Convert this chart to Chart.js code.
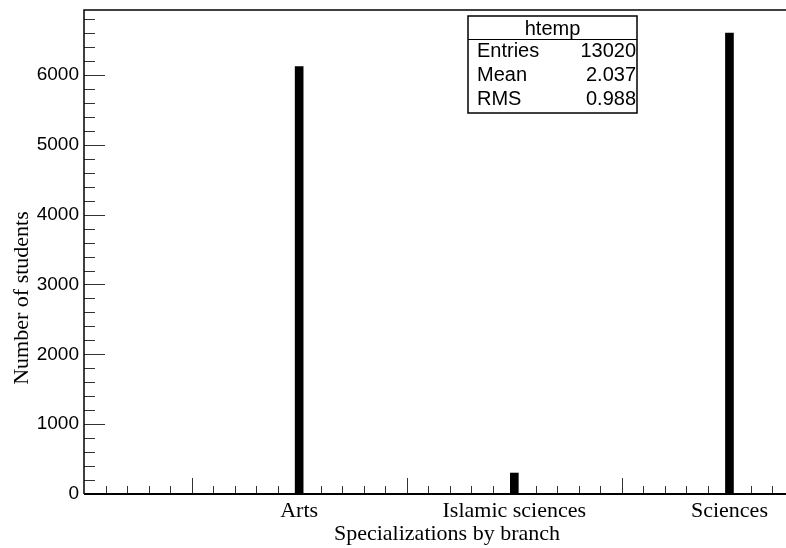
<!DOCTYPE html>
<html>
<head>
<meta charset="utf-8">
<script src="https://cdn.jsdelivr.net/npm/chart.js@4.4.0/dist/chart.umd.min.js"></script>
<style>
  html, body { margin: 0; padding: 0; background: #fff; overflow: hidden; }
  #wrap { width: 800px; height: 548px; }
</style>
</head>
<body>
<div id="wrap"><canvas id="c" width="800" height="548"></canvas></div>
<script>
// ---- data ----
const categories = ['Arts', 'Islamic sciences', 'Sciences'];
const positions = [1, 2, 3];
const counts = [6120, 300, 6600];
const yTickValues = [0, 1000, 2000, 3000, 4000, 5000, 6000];
const statsLabels = ['Entries', 'Mean', 'RMS'];
const statsValues = ['13020', '2.037', '0.988'];
const statsTitle = 'htemp';
const xTitle = 'Specializations by branch';
const yTitle = 'Number of students';

const SANS = "'Liberation Sans', Arial, sans-serif";
const SERIF = "'Liberation Serif', 'Times New Roman', serif";

const points = positions.map((p, i) => ({ x: p, y: counts[i] }));

const rootPlugin = {
  id: 'rootStyle',
  beforeDatasetsDraw(chart) {
    const { ctx, chartArea, scales } = chart;
    const x = scales.x, y = scales.y;
    ctx.save();
    ctx.strokeStyle = '#333';
    ctx.lineWidth = 1;
    for (let v = 0; v <= y.max; v += 200) {
      const py = Math.round(y.getPixelForValue(v)) + 0.5;
      const len = (v % 1000 === 0) ? 21 : 11;
      ctx.beginPath();
      ctx.moveTo(chartArea.left, py);
      ctx.lineTo(chartArea.left + len, py);
      ctx.stroke();
    }
    for (let i = 1; i * 0.1 <= x.max + 1e-9; i++) {
      const v = i * 0.1;
      const px = Math.round(x.getPixelForValue(v)) + 0.5;
      const major = (i % 10 === 5);
      const len = major ? 16 : 8;
      ctx.beginPath();
      ctx.moveTo(px, chartArea.bottom);
      ctx.lineTo(px, chartArea.bottom - len);
      ctx.stroke();
    }
    ctx.strokeStyle = '#000';
    ctx.lineWidth = 1.5;
    ctx.beginPath();
    ctx.moveTo(chart.width, chartArea.top);
    ctx.lineTo(chartArea.left, chartArea.top);
    ctx.lineTo(chartArea.left, chartArea.bottom);
    ctx.stroke();
    ctx.lineWidth = 2;
    ctx.beginPath();
    ctx.moveTo(chartArea.left, chartArea.bottom);
    ctx.lineTo(chart.width, chartArea.bottom);
    ctx.stroke();
    ctx.restore();
  },
  afterDraw(chart) {
    const { ctx } = chart;
    ctx.save();
    const bx = 468, by = 16, bw = 169, bh = 97;
    ctx.fillStyle = '#fff';
    ctx.fillRect(bx, by, bw, bh);
    ctx.strokeStyle = '#000';
    ctx.lineWidth = 1.5;
    ctx.strokeRect(bx, by, bw, bh);
    ctx.lineWidth = 1;
    ctx.beginPath();
    ctx.moveTo(bx, 39.5);
    ctx.lineTo(bx + bw, 39.5);
    ctx.stroke();
    ctx.fillStyle = '#000';
    ctx.font = '20px ' + SANS;
    ctx.textBaseline = 'alphabetic';
    ctx.textAlign = 'center';
    ctx.fillText(statsTitle, bx + bw / 2, 35);
    const baselines = [57, 81, 105];
    statsLabels.forEach((l, i) => {
      ctx.textAlign = 'left';
      ctx.fillText(l, 477, baselines[i]);
      ctx.textAlign = 'right';
      ctx.fillText(statsValues[i], 636, baselines[i]);
    });
    ctx.font = '22px ' + SERIF;
    ctx.textAlign = 'center';
    ctx.textBaseline = 'alphabetic';
    ctx.fillText(xTitle, 447, 540);
    ctx.translate(28, 298);
    ctx.rotate(-Math.PI / 2);
    ctx.fillText(yTitle, 0, 0);
    ctx.restore();
  }
};

new Chart(document.getElementById('c'), {
  type: 'bar',
  data: {
    datasets: [{
      data: points,
      backgroundColor: '#000',
      borderWidth: 0,
      barThickness: 8
    }]
  },
  options: {
    responsive: false,
    animation: false,
    devicePixelRatio: 1,
    layout: { padding: { top: 10, right: 6, left: 0, bottom: 0 } },
    plugins: { legend: { display: false }, tooltip: { enabled: false } },
    scales: {
      x: {
        type: 'linear',
        min: 0,
        max: 3.3,
        offset: false,
        grid: { display: false, drawTicks: false },
        border: { display: false },
        afterBuildTicks(scale) {
          scale.ticks = positions.map(v => ({ value: v }));
        },
        afterFit(scale) {
          scale.height = 54;
          scale.paddingLeft = 0; scale.paddingRight = 0;
          scale.paddingTop = 0; scale.paddingBottom = 0;
        },
        ticks: {
          autoSkip: false,
          maxRotation: 0,
          padding: 4,
          color: '#000',
          font: { family: SERIF, size: 22 },
          callback(value) {
            const i = positions.indexOf(value);
            return i >= 0 ? categories[i] : '';
          }
        }
      },
      y: {
        min: 0,
        max: 6930,
        grid: { display: false, drawTicks: false },
        border: { display: false },
        afterBuildTicks(scale) {
          scale.ticks = yTickValues.map(v => ({ value: v }));
        },
        afterFit(scale) {
          scale.width = 84;
          scale.paddingTop = 0; scale.paddingBottom = 0;
          scale.paddingLeft = 0; scale.paddingRight = 0;
        },
        ticks: {
          padding: 5,
          color: '#000',
          font: { family: SANS, size: 19 },
          callback(value) { return String(value); }
        }
      }
    }
  },
  plugins: [rootPlugin]
});
</script>
</body>
</html>
